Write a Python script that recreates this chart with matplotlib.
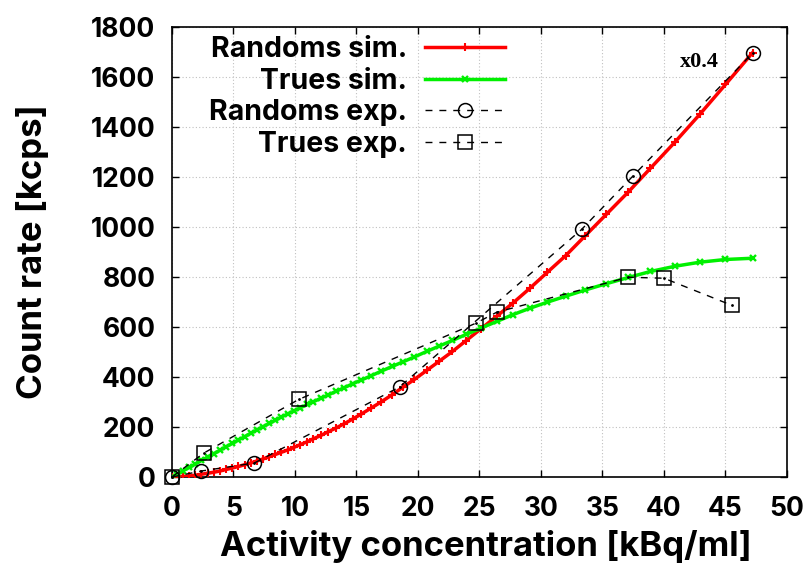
import numpy as np
import matplotlib.pyplot as plt

plt.rcParams['font.family'] = ['Inter', 'Liberation Sans', 'DejaVu Sans']
plt.rcParams['font.weight'] = 'bold'

# simulated count rates (kcps) vs activity concentration (kBq/ml)
act_sim = [0.0, 0.4, 0.9, 1.4, 1.9, 2.4, 2.9, 3.4, 3.9, 4.4, 4.9, 5.4, 5.9, 6.4,
           6.9, 7.4, 7.9, 8.4, 8.9, 9.4, 9.9, 10.4, 11.0, 11.5, 12.1, 12.7, 13.3,
           14.0, 14.7, 15.4, 16.2, 17.0, 17.9, 18.8, 19.7, 20.7, 21.7, 22.8, 23.9,
           25.1, 26.4, 27.7, 29.1, 30.5, 32.0, 33.6, 35.3, 37.1, 38.9, 40.9, 42.9,
           45.0, 47.2]
randoms_sim = [0, 1, 2, 4, 7, 11, 15, 19, 24, 30, 36, 42, 49, 56, 64, 72, 81, 90,
               99, 108, 118, 129, 141, 153, 166, 181, 195, 213, 232, 252, 276, 300,
               329, 360, 390, 426, 462, 502, 545, 592, 643, 695, 755, 818, 885, 965,
               1050, 1140, 1235, 1340, 1450, 1570, 1697]
trues_sim = [0, 11, 25, 38, 52, 66, 80, 93, 107, 121, 134, 148, 161, 175, 188, 201,
             214, 227, 240, 252, 264, 276, 290, 301, 315, 328, 342, 357, 373, 388,
             405, 423, 442, 461, 480, 502, 523, 546, 570, 595, 622, 649, 675, 699,
             723, 748, 773, 798, 822, 843, 859, 870, 875]

# measured points
act_rand_exp = [0.0, 2.4, 6.7, 18.5, 33.3, 37.5, 47.2]
randoms_exp = [0, 24, 56, 360, 990, 1205, 1695]
act_trues_exp = [0.0, 2.6, 10.3, 24.7, 26.4, 37.1, 40.0, 45.5]
trues_exp = [0, 96, 310, 615, 659, 799, 795, 687]

fig = plt.figure(figsize=(8.1, 5.69), dpi=100)
ax = fig.add_axes([0.2123, 0.1617, 0.7593, 0.7909])

ax.plot(act_sim, randoms_sim, color='#ff0000', lw=2.5, marker='+', ms=6, mew=1.5,
        label='Randoms sim.', zorder=3)
ax.plot(act_sim, trues_sim, color='#00f000', lw=2.5, marker='x', ms=5, mew=1.7,
        label='Trues sim.', zorder=3)
ax.plot(act_rand_exp, randoms_exp, color='black', lw=1.0, ls=(0, (5, 5)),
        marker='o', ms=10, mfc='none', mew=1.1, label='Randoms exp.',
        zorder=4, clip_on=False)
ax.plot(act_trues_exp, trues_exp, color='black', lw=1.0, ls=(0, (5, 5)),
        marker='s', ms=10.5, mfc='none', mew=1.1, label='Trues exp.',
        zorder=4, clip_on=False)
# centre dots of the point symbols
ax.plot(act_rand_exp, randoms_exp, ls='none', marker='.', ms=2, color='black',
        zorder=4, clip_on=False)
ax.plot(act_trues_exp, trues_exp, ls='none', marker='.', ms=2, color='black',
        zorder=4, clip_on=False)

ax.text(42.9, 1661, 'x0.4', family='Liberation Serif', weight='bold',
        fontsize=16, ha='center', va='center')

ax.set_xlim(0, 50)
ax.set_ylim(0, 1800)
ax.set_xticks(np.arange(0, 51, 5))
ax.set_yticks(np.arange(0, 1801, 200))
ax.grid(True, color='#c0c0c0', ls=(0, (1, 2)), lw=0.8)
ax.tick_params(direction='in', top=True, right=True, length=5, width=1,
               labelsize=19)
ax.tick_params(axis='y', pad=12)
ax.tick_params(axis='x', pad=14)
for s in ax.spines.values():
    s.set_linewidth(1.2)

ax.set_xlabel('Activity concentration [kBq/ml]', fontsize=25, weight='bold')
ax.set_ylabel('Count rate [kcps]', fontsize=25, weight='bold')
ax.xaxis.set_label_coords(0.51, -0.118)
ax.yaxis.set_label_coords(-0.2, 0.5)

ax.legend(loc='upper left', bbox_to_anchor=(0.06, 0.98), frameon=False,
          markerfirst=False, fontsize=20.5, handlelength=2.8, handletextpad=0.63,
          labelspacing=0.16, borderaxespad=0.0, borderpad=0.0, numpoints=1)

fig.savefig('out.png', dpi=100)
